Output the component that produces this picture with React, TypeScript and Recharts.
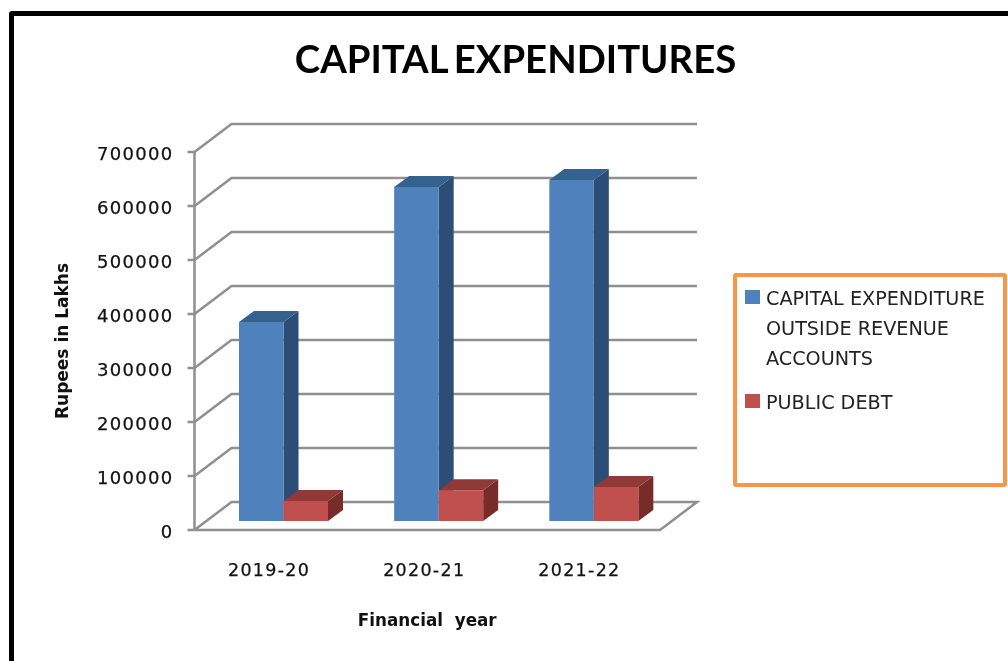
import React from 'react';
import { BarChart, Bar, XAxis, YAxis, CartesianGrid, Legend, Label } from 'recharts';

const years = ['2019-20', '2020-21', '2021-22'];
const capitalOutside = [368500, 618500, 631500];
const publicDebt = [37000, 57000, 63000];
const yTicks = [0, 100000, 200000, 300000, 400000, 500000, 600000, 700000];

const rows = years.map((year, i) => ({ year, capital: capitalOutside[i], debt: publicDebt[i] }));

const DEPTH_X = 37;
const DEPTH_Y = 28;
const BAR_DX = 11.5;
const BAR_DY = -9;
const BAR_DEPTH_X = 15;
const BAR_DEPTH_Y = 11;
const PLOT_BOTTOM = 530;
const AXIS_GRAY = '#8f8f8f';
const TICK_FONT = '"DejaVu Sans", sans-serif';

// wall lines run back from the front plane, the zero line also closes the floor
const GridRow = (props: any) => {
  const { x1, y1, x2 } = props;
  const backY = y1 - DEPTH_Y;
  let d = `M${x1},${y1} L${x1 + DEPTH_X},${backY} L${x2 + DEPTH_X},${backY}`;
  if (Math.abs(y1 - PLOT_BOTTOM) < 1) {
    d += ` L${x2},${y1} L${x1},${y1}`;
  }
  return <path key={y1} d={d} fill="none" stroke={AXIS_GRAY} strokeWidth={2.5} />;
};

const makeBar = (front: string, top: string, side: string) => (props: any) => {
  const { x, y, width, height } = props;
  const l = x + BAR_DX;
  const r = l + width;
  const t = y + BAR_DY;
  const b = t + height;
  return (
    <g>
      <polygon
        points={`${r},${t} ${r + BAR_DEPTH_X},${t - BAR_DEPTH_Y} ${r + BAR_DEPTH_X},${b - BAR_DEPTH_Y} ${r},${b}`}
        fill={side}
      />
      <polygon
        points={`${l},${t} ${l + BAR_DEPTH_X},${t - BAR_DEPTH_Y} ${r + BAR_DEPTH_X},${t - BAR_DEPTH_Y} ${r},${t}`}
        fill={top}
      />
      <rect x={l} y={t} width={width} height={height} fill={front} />
    </g>
  );
};

const LegendBox = ({ payload }: any) => (
  <div style={{ fontFamily: TICK_FONT, fontSize: 19.2, lineHeight: '30px', color: '#222' }}>
    {(payload || []).map((entry: any, i: number) => (
      <div key={entry.value} style={{ position: 'relative', paddingLeft: 29, marginTop: i === 0 ? 7 : 14 }}>
        <span style={{ position: 'absolute', left: 8, top: 6, width: 15, height: 14, background: entry.color }} />
        {entry.value}
      </div>
    ))}
  </div>
);

export default function App() {
  return (
    <div style={{ position: 'absolute', left: 0, top: 0, width: 1008, height: 661, overflow: 'hidden', background: '#fff', filter: 'blur(0.5px)' }}>
      <div style={{ position: 'absolute', left: 9, top: 11, width: 1100, height: 800, border: '5px solid #000', borderRadius: 3 }} />
      <div style={{ position: 'absolute', left: 0, top: 31, width: 1031, textAlign: 'center', fontFamily: 'Lato, sans-serif', fontWeight: 700, fontSize: 38.3, lineHeight: '54px', color: '#000', wordSpacing: -3 }}>
        CAPITAL EXPENDITURES
      </div>
      <div style={{ position: 'absolute', left: 0, top: 0 }}>
        <BarChart
          width={1008}
          height={661}
          data={rows}
          barGap={0}
          barSize={44.5}
          margin={{ top: 152, right: 74, bottom: 31, left: 40 }}
        >
          <CartesianGrid horizontal={GridRow} vertical={false} />
          <XAxis
            dataKey="year"
            height={100}
            axisLine={false}
            tickLine={false}
            tickMargin={28}
            tick={{ fill: '#111', fontSize: 17.5, fontFamily: TICK_FONT, letterSpacing: 1.3, dx: -3, stroke: '#111', strokeWidth: 0.25 }}
          >
            <Label
              value={'Financial\u00a0\u00a0year'}
              position="insideBottom"
              offset={4}
              style={{ fill: '#111', fontSize: 16.8, fontWeight: 700, fontFamily: TICK_FONT }}
            />
          </XAxis>
          <YAxis
            width={154.5}
            domain={[0, 700000]}
            ticks={yTicks}
            interval={0}
            axisLine={{ stroke: AXIS_GRAY, strokeWidth: 2.5 }}
            tickLine={{ stroke: AXIS_GRAY, strokeWidth: 2.5 }}
            tickSize={7}
            tickMargin={14}
            tick={{ fill: '#111', fontSize: 18, fontFamily: TICK_FONT, letterSpacing: 1.3, dy: 2, stroke: '#111', strokeWidth: 0.25 }}
          >
            <Label
              value="Rupees in Lakhs"
              angle={-90}
              position="insideLeft"
              offset={22}
              style={{ fill: '#111', fontSize: 17, fontWeight: 700, fontFamily: TICK_FONT, textAnchor: 'middle' }}
            />
          </YAxis>
          <Legend
            layout="vertical"
            align="right"
            verticalAlign="middle"
            content={LegendBox}
            wrapperStyle={{ position: 'absolute', left: 733, right: 'auto', top: 273, width: 274, height: 214, boxSizing: 'border-box', border: '4px solid #f79646', borderRadius: 3, background: '#fff' }}
          />
          <Bar
            dataKey="capital"
            name="CAPITAL EXPENDITURE OUTSIDE REVENUE ACCOUNTS"
            fill="#4f81bd"
            isAnimationActive={false}
            shape={makeBar('#4f81bd', '#35618f', '#2c4d75')}
          />
          <Bar
            dataKey="debt"
            name="PUBLIC DEBT"
            fill="#c0504d"
            isAnimationActive={false}
            shape={makeBar('#c0504d', '#8f3a38', '#772c2a')}
          />
        </BarChart>
      </div>
    </div>
  );
}
